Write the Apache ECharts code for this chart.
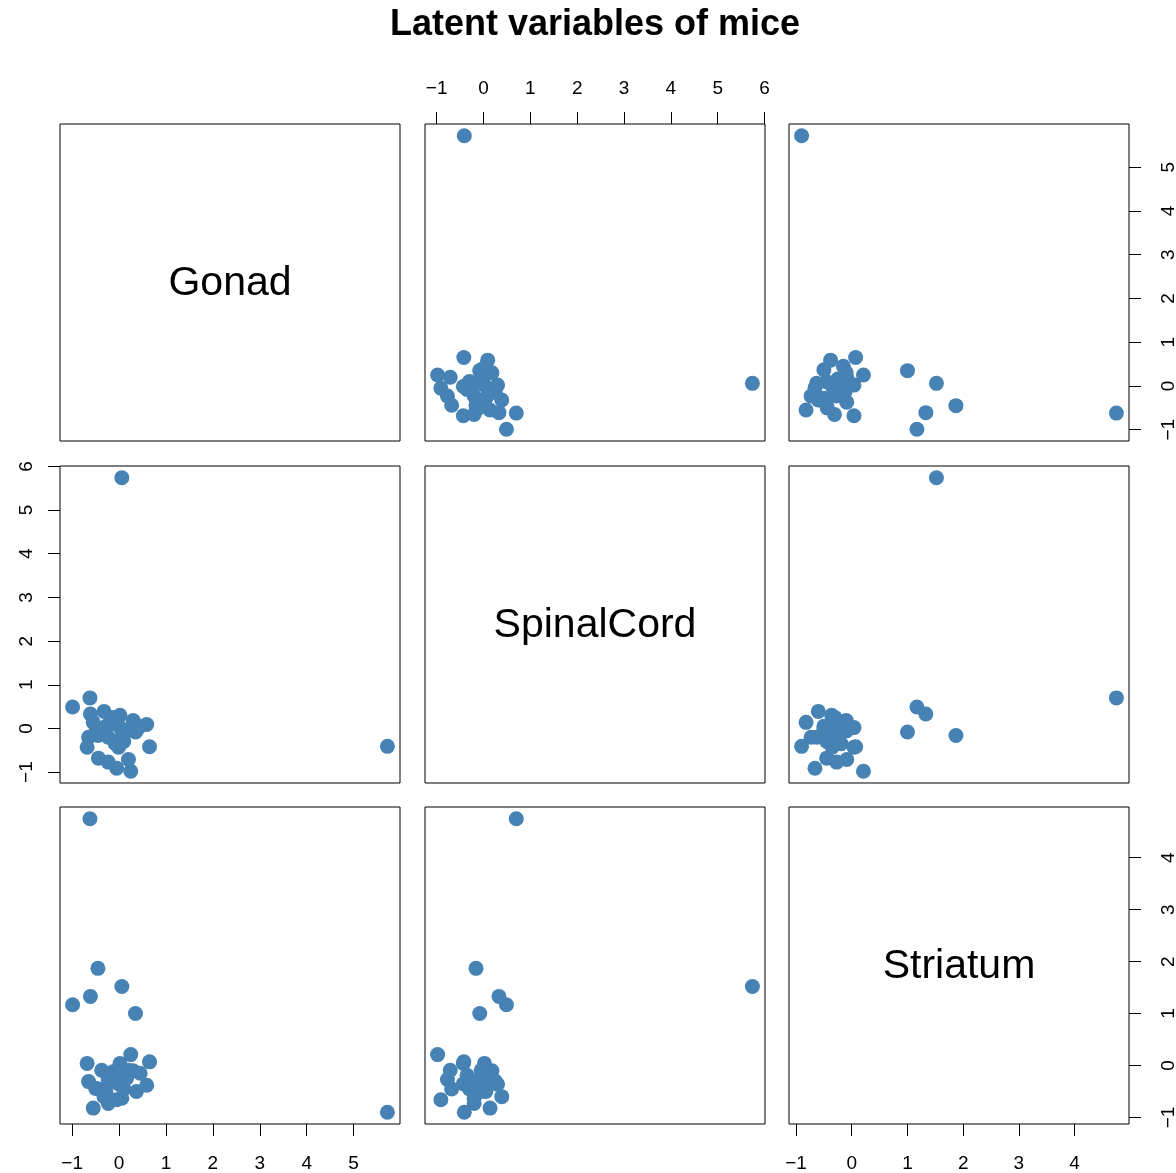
<!DOCTYPE html>
<html>
<head>
<meta charset="utf-8">
<script src="https://cdn.jsdelivr.net/npm/echarts@6/dist/echarts.min.js"></script>
<style>
html,body{margin:0;padding:0;background:#fff;}
#chart{width:1176px;height:1173px;}
</style>
</head>
<body>
<div id="chart"></div>
<script>
// ---- data (one entry per mouse) ----
const varNames = ['Gonad', 'SpinalCord', 'Striatum'];
const gonad      = [5.72, 0.06, -0.62, 0.35, -0.99, -0.61, -0.45, 0.25, 0.65, -0.32, -0.55, 0.02, 0.30, 0.59, 0.37, 0.16, -0.13, -0.37, -0.65, -0.68, -0.01, -0.44, -0.23, -0.05, 0.20, -0.23, 0.06, -0.08, -0.50, 0.02, 0.45, -0.28, 0.10, -0.15];
const spinalCord = [-0.41, 5.74, 0.70, -0.08, 0.49, 0.33, -0.16, -0.98, -0.42, 0.39, 0.14, 0.30, 0.18, 0.09, -0.05, -0.05, 0.11, -0.05, -0.20, -0.43, -0.43, -0.68, -0.77, -0.91, -0.71, -0.20, -0.20, -0.35, -0.10, 0.02, 0.05, 0.05, -0.30, 0.25];
const striatum   = [-0.90, 1.52, 4.75, 1.00, 1.17, 1.33, 1.87, 0.21, 0.07, -0.60, -0.82, -0.36, -0.10, -0.38, -0.50, -0.25, -0.12, -0.09, -0.31, 0.04, -0.35, -0.45, -0.27, -0.66, -0.09, -0.73, -0.63, -0.19, -0.44, 0.04, -0.15, -0.50, -0.45, -0.30];
const tickGonad      = [-1, 0, 1, 2, 3, 4, 5];
const tickSpinalCord = [-1, 0, 1, 2, 3, 4, 5, 6];
const tickStriatum   = [-1, 0, 1, 2, 3, 4];

const vars = [gonad, spinalCord, striatum];
const ticks = [tickGonad, tickSpinalCord, tickStriatum];

// ---- layout ----
const colLeft = [60, 425, 789];
const rowTop = [124, 466, 807];
const panelW = 340, panelH = 317;
const pointColor = '#4682B4';
const fontFam = '"Liberation Sans", Arial, Helvetica, sans-serif';

function range(a) {
  const mn = Math.min.apply(null, a), mx = Math.max.apply(null, a);
  const e = (mx - mn) * 0.04;
  return [mn - e, mx + e];
}
const ranges = vars.map(range);
const fmt = v => (v < 0 ? '\u2212' + Math.abs(v) : String(v));

const grids = [], xAxes = [], yAxes = [], series = [], graphics = [];
let gi = 0;
for (let r = 0; r < 3; r++) {
  for (let c = 0; c < 3; c++) {
    grids.push({
      left: colLeft[c], top: rowTop[r], width: panelW, height: panelH,
      containLabel: false, outerBoundsMode: 'none',
      show: true, borderColor: '#000', borderWidth: 1, backgroundColor: 'transparent'
    });
    // x axis
    let xShow = false, xPos = 'bottom', xMargin = 30;
    if (r === 2 && (c === 0 || c === 2)) { xShow = true; xPos = 'bottom'; xMargin = 30; }
    if (r === 0 && c === 1) { xShow = true; xPos = 'top'; xMargin = 26; }
    xAxes.push({
      type: 'value', gridIndex: gi, min: ranges[c][0], max: ranges[c][1],
      position: xPos,
      axisLine: { show: false, onZero: false },
      splitLine: { show: false },
      axisTick: { show: xShow, inside: false, length: 12, customValues: ticks[c], lineStyle: { color: '#000', width: 1 } },
      axisLabel: { show: xShow, customValues: ticks[c], formatter: fmt, margin: xMargin, color: '#000', fontSize: 19, fontFamily: fontFam, showMinLabel: true, showMaxLabel: true }
    });
    // y axis
    let yShow = false, yPos = 'left', yMargin = 24;
    if (c === 2 && (r === 0 || r === 2)) { yShow = true; yPos = 'right'; yMargin = 30; }
    if (c === 0 && r === 1) { yShow = true; yPos = 'left'; yMargin = 24; }
    yAxes.push({
      type: 'value', gridIndex: gi, min: ranges[r][0], max: ranges[r][1],
      position: yPos,
      axisLine: { show: false, onZero: false },
      splitLine: { show: false },
      axisTick: { show: yShow, inside: false, length: 12, customValues: ticks[r], lineStyle: { color: '#000', width: 1 } },
      axisLabel: { show: yShow, customValues: ticks[r], formatter: fmt, rotate: 90, margin: yMargin, color: '#000', fontSize: 19, fontFamily: fontFam, showMinLabel: true, showMaxLabel: true }
    });
    if (r !== c) {
      const data = vars[c].map((v, i) => [v, vars[r][i]]);
      series.push({
        type: 'scatter', xAxisIndex: gi, yAxisIndex: gi, data: data,
        symbol: 'circle', symbolSize: 15,
        itemStyle: { color: pointColor, opacity: 1 },
        emphasis: { disabled: true },
        animation: false
      });
    } else {
      graphics.push({
        type: 'text', x: colLeft[c] + panelW / 2, y: rowTop[r] + panelH / 2 + 1,
        style: { text: varNames[r], font: '41px ' + fontFam, fill: '#000', textAlign: 'center', textVerticalAlign: 'middle' },
        silent: true
      });
    }
    gi++;
  }
}

const chart = echarts.init(document.getElementById('chart'), null, { renderer: 'canvas' });
chart.setOption({
  backgroundColor: '#fff',
  animation: false,
  title: {
    text: 'Latent variables of mice', left: 590, top: 2, textAlign: 'center',
    textStyle: { fontSize: 36, fontWeight: 'bold', color: '#000', fontFamily: fontFam }
  },
  grid: grids, xAxis: xAxes, yAxis: yAxes, series: series,
  graphic: graphics
});
</script>
</body>
</html>
